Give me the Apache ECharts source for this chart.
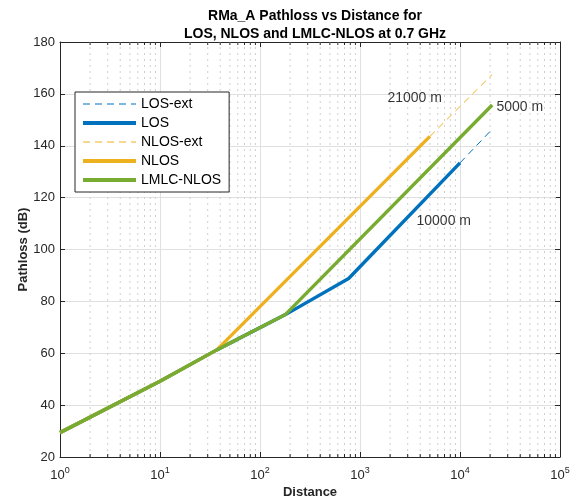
<!DOCTYPE html>
<html>
<head>
<meta charset="utf-8">
<script src="https://cdn.jsdelivr.net/npm/echarts@6/dist/echarts.min.js"></script>
<style>
html,body{margin:0;padding:0;background:#fff;}
#chart{width:581px;height:504px;}
</style>
</head>
<body>
<div id="chart"></div>
<script>
// ---- data (distance in m, pathloss in dB) ----
var losExt  = [[10000, 133.4], [21000, 146.4]];
var los     = [[1, 29.4], [10, 49.2], [37, 61.3], [178, 74.8], [770, 88.8], [10000, 133.4]];
var nlosExt = [[5000, 143.6], [21000, 167.5]];
var nlos    = [[1, 29.4], [10, 49.2], [37, 61.3], [5000, 143.6]];
var lmlc    = [[1, 29.4], [10, 49.2], [37, 61.3], [178, 74.8], [21000, 155.7]];
var seriesNames = ['LOS-ext', 'LOS', 'NLOS-ext', 'NLOS', 'LMLC-NLOS'];
var annotations = [[1860, 158.2, '21000 m'], [22900, 154.8, '5000 m'], [3630, 110.8, '10000 m']];
var yTicks = [20, 40, 60, 80, 100, 120, 140, 160, 180];
var xMin = 1, xMax = 100000, yMin = 20, yMax = 180;

var colors = {blue: '#0072BD', yellow: '#EDB120', green: '#77AC30'};
var axisColor = '#262626';
var font = '"Liberation Sans", Arial, Helvetica, sans-serif';

// minor grid positions for log axis (2..9 per decade)
var minorX = [];
for (var k = 0; k < 5; k++) {
  for (var m = 2; m <= 9; m++) minorX.push([m * Math.pow(10, k), yMin]);
}

var chart = echarts.init(document.getElementById('chart'), null, {renderer: 'canvas'});

function lineSeries(name, data, color, dashed) {
  return {
    name: name, type: 'line', data: data, symbol: 'none', showSymbol: false,
    xAxisIndex: 0, yAxisIndex: 0, clip: true, z: 5,
    lineStyle: {color: color, width: dashed ? 1 : 3.4, type: dashed ? [7, 5] : 'solid'},
    itemStyle: {color: color},
    emphasis: {disabled: true}, animation: false
  };
}

var legendData = seriesNames.map(function (n, i) {
  var dashed = (i === 0 || i === 2);
  return {name: n, itemStyle: {opacity: 0},
    lineStyle: {width: dashed ? 1.2 : 4, type: dashed ? [7, 5] : 'solid'}};
});

var option = {
  animation: false,
  textStyle: {fontFamily: font},
  title: {
    text: 'RMa_A Pathloss vs Distance for\nLOS, NLOS and LMLC-NLOS at 0.7 GHz',
    left: 310, top: 2, textAlign: 'center',
    textStyle: {fontSize: 14, fontWeight: 'bold', color: '#000', lineHeight: 18, fontFamily: font}
  },
  grid: {left: 60, right: 21, top: 42, bottom: 43, containLabel: false},
  legend: {
    data: legendData,
    orient: 'vertical', left: 75, top: 92,
    itemWidth: 53, itemHeight: 14, itemGap: 5,
    padding: [5, 8, 5, 6],
    itemStyle: {opacity: 0},
    backgroundColor: '#fff', borderColor: axisColor, borderWidth: 1,
    textStyle: {fontSize: 14, color: '#000', fontFamily: font},
    selectedMode: false
  },
  xAxis: [{
    type: 'log', logBase: 10, min: xMin, max: xMax,
    name: 'Distance', nameLocation: 'middle', nameGap: 29, nameMoveOverlap: false,
    nameTextStyle: {fontSize: 13, fontWeight: 'bold', color: axisColor, fontFamily: font},
    axisLine: {show: true, onZero: false, lineStyle: {color: axisColor, width: 1}},
    axisTick: {show: true, inside: true, length: 5, lineStyle: {color: axisColor}},
    axisLabel: {
      margin: 9, color: axisColor, fontFamily: font,
      formatter: function (v) { return '{b|10}{s|' + Math.round(Math.log10(v)) + '}'; },
      rich: {
        b: {fontSize: 13, color: axisColor, fontFamily: font, verticalAlign: 'bottom'},
        s: {fontSize: 9, color: axisColor, fontFamily: font, verticalAlign: 'bottom', padding: [0, 0, 7, 0]}
      }
    },
    splitLine: {show: true, lineStyle: {color: '#e0e0e0', width: 1}},
    minorTick: {show: false}, minorSplitLine: {show: false}
  }, {
    type: 'log', logBase: 10, min: xMin, max: xMax, position: 'top',
    axisLine: {show: true, onZero: false, lineStyle: {color: axisColor, width: 1}},
    axisTick: {show: true, inside: true, length: 5, lineStyle: {color: axisColor}},
    axisLabel: {show: false}, splitLine: {show: false}
  }],
  yAxis: [{
    type: 'value', min: yMin, max: yMax, interval: 20,
    name: 'Pathloss (dB)', nameLocation: 'middle', nameGap: 30, nameMoveOverlap: false,
    nameTextStyle: {fontSize: 13, fontWeight: 'bold', color: axisColor, fontFamily: font},
    axisLine: {show: true, onZero: false, lineStyle: {color: axisColor, width: 1}},
    axisTick: {show: true, inside: true, length: 5, lineStyle: {color: axisColor}},
    axisLabel: {margin: 5, fontSize: 13, color: axisColor, fontFamily: font,
      formatter: function (v) { return yTicks.indexOf(v) >= 0 ? String(v) : ''; }},
    splitLine: {show: true, lineStyle: {color: '#e0e0e0', width: 1}}
  }, {
    type: 'value', min: yMin, max: yMax, interval: 20, position: 'right',
    axisLine: {show: true, onZero: false, lineStyle: {color: axisColor, width: 1}},
    axisTick: {show: true, inside: true, length: 5, lineStyle: {color: axisColor}},
    axisLabel: {show: false}, splitLine: {show: false}
  }],
  series: [
    {
      name: 'minorGrid', type: 'custom', xAxisIndex: 0, yAxisIndex: 0, z: 1, silent: true,
      data: minorX, encode: {x: 0, y: 1}, clip: false,
      renderItem: function (params, api) {
        var v = api.value(0);
        var pb = api.coord([v, yMin]);
        var pt = api.coord([v, yMax]);
        return {
          type: 'group', children: [
            {type: 'line', shape: {x1: pb[0], y1: pb[1], x2: pt[0], y2: pt[1]},
              style: {stroke: '#cfcfcf', lineWidth: 1, lineDash: [2, 4]}},
            {type: 'line', shape: {x1: pb[0], y1: pb[1], x2: pb[0], y2: pb[1] - 3},
              style: {stroke: axisColor, lineWidth: 1}},
            {type: 'line', shape: {x1: pt[0], y1: pt[1], x2: pt[0], y2: pt[1] + 3},
              style: {stroke: axisColor, lineWidth: 1}}
          ]
        };
      }
    },
    lineSeries(seriesNames[0], losExt, colors.blue, true),
    lineSeries(seriesNames[1], los, colors.blue, false),
    lineSeries(seriesNames[2], nlosExt, colors.yellow, true),
    lineSeries(seriesNames[3], nlos, colors.yellow, false),
    lineSeries(seriesNames[4], lmlc, colors.green, false),
    {
      name: 'annotations', type: 'scatter', xAxisIndex: 0, yAxisIndex: 0, z: 6, silent: true,
      symbolSize: 1, itemStyle: {color: 'rgba(0,0,0,0)'},
      data: annotations.map(function (a) { return {value: [a[0], a[1]], name: a[2]}; }),
      label: {show: true, position: 'right', distance: 0, formatter: '{b}',
        fontSize: 14, color: '#000', fontFamily: font}
    }
  ]
};
chart.setOption(option);
</script>
</body>
</html>
